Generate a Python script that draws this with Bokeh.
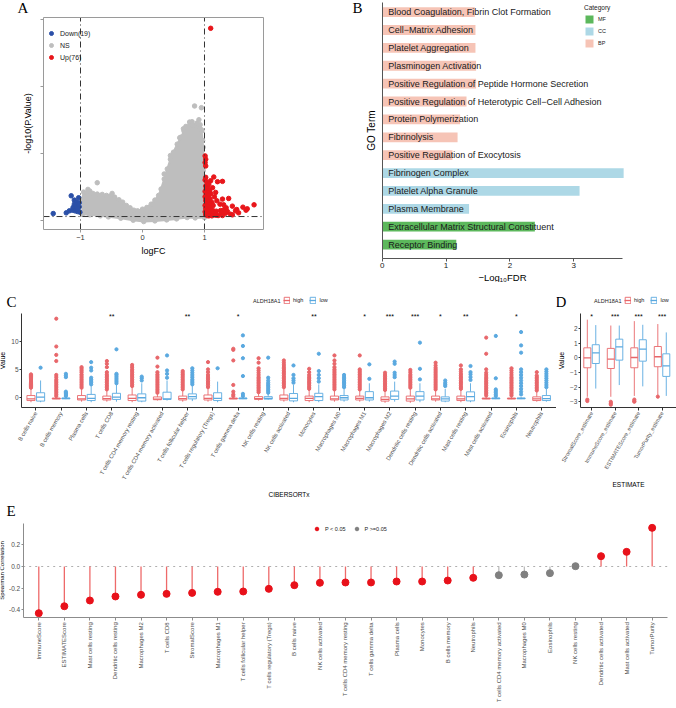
import math
from bokeh.plotting import figure
from bokeh.models import Range1d, Label, Legend, LegendItem, FixedTicker, NumeralTickFormatter
from bokeh.layouts import column, row
from bokeh.embed import file_html
from bokeh.resources import INLINE
from bokeh.core.properties import value

FONT = "Liberation Sans"
SERIF = "Liberation Serif"

# ---------------- Panel A : volcano ----------------
fc_cut = [-1, 1]
p_cut = 1.3
cloud_x = [-0.97, -0.97, -0.95, -0.90, -0.85, -0.80, -0.73, -0.65, -0.58, -0.51,
           -0.45, -0.38, -0.32, -0.26, -0.20, -0.14, -0.08, 0.0, 0.07, 0.14,
           0.20, 0.26, 0.30, 0.35, 0.40, 0.45, 0.50, 0.56, 0.62, 0.67,
           0.72, 0.77, 0.82, 0.87, 0.92, 0.95, 0.97, 0.985, 0.99, 0.995,
           1.0, 0.85, 0.72, 0.55, 0.39, 0.20, 0.02, -0.15, -0.35, -0.55,
           -0.68, -0.85]
cloud_y = [2.0, 6.5, 8.6, 8.3, 8.9, 8.2, 8.0, 7.9, 7.6, 7.5,
           7.1, 6.3, 5.6, 4.6, 3.9, 3.2, 3.0, 3.5, 4.0, 5.0,
           6.2, 7.6, 9.5, 12.5, 15.5, 18.4, 20.5, 22.9, 25.0, 26.8,
           28.0, 28.9, 28.5, 28.4, 27.8, 27.2, 24.0, 18.0, 10.0, 4.0,
           1.0, 0.9, 1.0, 0.6, 0.3, 0.0, -0.2, 0.2, 0.8, 1.2,
           1.5, 1.8]
ns_px = [-0.88, -0.73, -0.49, 0.84, 0.95, 0.80, 0.96, 0.70, 0.88, 0.60, 0.45, 0.35, 0.93, 0.76, 0.91, 0.66, 0.98, 0.98]
ns_py = [9.4, 11.4, 8.2, 34.3, 33.8, 29.6, 26.9, 28.2, 29.2, 24.8, 19.5, 14.0, 28.7, 29.5, 30.2, 27.5, 22.0, 15.0]
down_x = [-1.44, -1.23, -1.18, -1.15, -1.13, -1.12, -1.10, -1.09, -1.08, -1.07, -1.06, -1.05, -1.04, -1.03, -1.02, -1.02, -1.01, -1.10, -1.05]
down_y = [2.2, 2.4, 3.0, 7.5, 3.2, 4.0, 6.2, 3.0, 4.9, 3.5, 5.5, 2.8, 3.2, 6.9, 4.2, 5.4, 2.6, 5.0, 3.8]
up_x = [1.01, 1.02, 1.01, 1.02,
        1.02, 1.05, 1.03, 1.08, 1.01, 1.06, 1.10, 1.03, 1.07, 1.01, 1.04, 1.09, 1.02, 1.06, 1.12, 1.03, 1.08, 1.01, 1.05, 1.10,
        1.02, 1.07, 1.13, 1.04, 1.01, 1.09, 1.05, 1.15, 1.02, 1.08, 1.12, 1.18, 1.22, 1.03, 1.06,
        1.15, 1.21, 1.29, 1.10, 1.13, 1.18, 1.29, 1.39, 1.31, 1.45, 1.62, 1.69, 1.80, 1.52, 1.32, 1.26, 1.35, 1.37, 1.27, 1.42,
        1.50, 1.55, 1.67, 1.25, 1.20, 1.16, 1.14, 1.34, 1.29, 1.45,
        1.10,
        1.04, 1.01, 1.02, 1.07, 1.11, 1.19]
up_y = [19.4, 18.4, 17.4, 16.4,
        10.4, 10.0, 9.6, 9.2, 8.8, 8.5, 8.2, 7.9, 7.5, 7.2, 6.8, 6.5, 6.1, 5.8, 5.5, 5.2, 4.9, 4.6, 4.3, 4.0,
        3.7, 3.4, 3.2, 3.0, 2.7, 2.5, 2.2, 2.0, 1.8, 1.6, 1.5, 1.7, 1.6, 2.0, 1.5,
        13.1, 11.7, 11.8, 12.0, 9.9, 8.5, 6.5, 6.7, 4.8, 4.4, 4.1, 3.6, 4.8, 3.4, 3.4, 3.1, 3.9, 2.8, 2.4, 2.0,
        3.0, 2.4, 3.2, 5.0, 6.0, 7.2, 4.6, 2.3, 1.6, 1.8,
        57.5,
        11.5, 12.2, 13.0, 11.0, 2.8, 2.9]
a_legend = ["Down(19)", "NS", "Up(76)"]

# ---------------- Panel B : GO terms ----------------
go_terms = ["Blood Coagulation, Fibrin Clot Formation", "Cell\u2212Matrix Adhesion", "Platelet Aggregation",
            "Plasminogen Activation", "Positive Regulation of Peptide Hormone Secretion",
            "Positive Regulation of Heterotypic Cell\u2212Cell Adhesion", "Protein Polymerization", "Fibrinolysis",
            "Positive Regulation of Exocytosis", "Fibrinogen Complex", "Platelet Alpha Granule", "Plasma Membrane",
            "Extracellular Matrix Structural Constituent", "Receptor Binding"]
go_fdr = [1.45, 1.46, 1.46, 1.47, 1.47, 1.32, 1.22, 1.18, 1.10, 3.78, 3.09, 1.36, 2.39, 1.16]
go_cat = ["BP"] * 9 + ["CC"] * 3 + ["MF"] * 2
cat_order = ["MF", "CC", "BP"]
cat_cols = {"MF": "#5CB85C", "CC": "#ADD8E6", "BP": "#F6C4B6"}

# ---------------- Panel C : CIBERSORTx boxplots ----------------
c_cells = ["B cells naive", "B cells memory", "Plasma cells", "T cells CD8", "T cells CD4 memory resting",
           "T cells CD4 memory activated", "T cells follicular helper", "T cells regulatory (Tregs)",
           "T cells gamma delta", "NK cells resting", "NK cells activated", "Monocytes", "Macrophages M0",
           "Macrophages M1", "Macrophages M2", "Dendritic cells resting", "Dendritic cells activated",
           "Mast cells resting", "Mast cells activated", "Eosinophils", "Neutrophils"]
c_sig = ["", "", "", "**", "", "", "**", "", "*", "", "", "**", "", "*", "***", "***", "*", "**", "", "*", ""]
c_hi_q1 = [-0.6, -0.3, -0.5, -0.5, -0.6, -0.45, -0.5, -0.5, -0.3, -0.4, -0.5, -0.6, -0.5, -0.5, -0.7, -0.7, -0.5, -0.6, -0.3, -0.3, -0.6]
c_hi_med = [-0.3, -0.25, -0.3, -0.25, -0.2, -0.35, -0.25, -0.2, -0.25, -0.25, -0.2, -0.2, -0.3, -0.2, -0.4, -0.3, -0.3, -0.3, -0.25, -0.25, -0.3]
c_hi_q3 = [0.3, -0.15, 0.3, 0.2, 0.4, 0.05, 0.2, 0.4, -0.15, 0.1, 0.4, 0.2, 0.2, 0.2, 0.06, 0.2, 0.2, 0.2, -0.15, -0.15, 0.06]
c_hi_lo = [-0.9, -0.35, -0.8, -0.8, -0.9, -0.6, -0.8, -0.8, -0.35, -0.6, -0.8, -0.9, -0.8, -0.8, -1.0, -1.0, -0.8, -0.9, -0.35, -0.35, -0.8]
c_hi_hi = [1.5, 0.0, 1.5, 1.2, 1.8, 0.6, 1.2, 1.6, 0.0, 0.7, 1.6, 1.3, 1.2, 1.2, 1.1, 1.5, 1.2, 1.3, 0.0, 0.0, 1.0]
c_hi_out = [
    [1.7, 1.9, 2.1, 2.3, 2.5, 2.7, 2.9, 3.1, 3.3, 3.5, 3.7, 3.9, 4.1],
    [0.2, 0.5, 0.8, 1.1, 1.4, 1.7, 2.0, 2.3, 2.6, 2.9, 3.2, 3.6, 4.0, 6.5, 7.6, 9.1, 14.1],
    [1.7, 2.0, 2.3, 2.6, 2.9, 3.2, 3.5, 3.8, 4.1, 4.5, 4.8, 5.1, 5.4],
    [1.4, 1.7, 2.0, 2.3, 2.6, 2.9, 3.2, 3.5, 3.8, 4.1, 4.5, 5.4, 6.0, 6.5],
    [2.0, 2.3, 2.6, 2.9, 3.2, 3.5, 3.8, 4.1, 4.4, 4.7, 5.0, 5.4, 5.8],
    [0.8, 1.1, 1.4, 1.7, 2.0, 2.3, 2.6, 2.9, 3.2, 3.5, 3.8, 4.1, 4.5, 5.5, 7.1],
    [1.4, 1.7, 2.0, 2.3, 2.6, 2.9, 3.2, 3.5, 3.8, 4.1, 4.4, 4.7],
    [1.8, 2.1, 2.4, 2.7, 3.0, 3.3, 3.6, 4.0, 4.5, 5.0, 6.3],
    [0.2, 0.5, 1.0, 2.2, 6.6, 8.5, 8.7],
    [0.9, 1.2, 1.5, 1.8, 2.1, 2.4, 2.7, 3.0, 3.3, 3.6, 4.0, 4.4, 4.8, 5.2, 6.2, 7.0],
    [1.8, 2.1, 2.4, 2.7, 3.0, 3.3, 3.6, 3.9, 4.2, 4.5, 4.8, 5.1, 5.4, 5.8, 6.2, 6.6],
    [1.5, 1.8, 2.1, 2.4, 2.7, 3.0, 3.3, 3.6, 4.0, 4.5, 5.1],
    [1.4, 1.7, 2.0, 2.3, 2.6, 2.9, 3.2, 3.5, 3.8, 4.1, 4.4, 4.7, 5.0, 5.4, 6.0, 6.6, 7.5],
    [1.4, 1.7, 2.0, 2.3, 2.6, 2.9, 3.2, 3.5, 3.8, 4.1, 4.4, 4.7, 5.0, 7.5],
    [1.3, 1.6, 1.9, 2.2, 2.5, 2.8, 3.1, 3.4, 3.7, 4.0, 4.4],
    [1.7, 2.0, 2.3, 2.6, 2.9, 3.2, 3.5, 3.8, 4.1, 4.5, 4.9],
    [1.4, 1.7, 2.0, 2.3, 2.6, 2.9, 3.2, 3.5, 3.8, 4.1, 4.4, 4.7, 5.0, 5.3, 5.7, 6.2],
    [1.5, 1.8, 2.1, 2.4, 2.7, 3.0, 3.3, 3.6, 3.9, 4.2, 4.6, 5.0, 5.7],
    [0.3, 0.6, 0.9, 1.2, 1.5, 1.8, 2.1, 2.4, 2.7, 3.0, 3.3, 3.6, 4.0, 4.4, 5.0, 7.8, 10.7],
    [0.3, 0.6, 0.9, 1.2, 1.5, 1.8, 2.1, 2.4, 2.7, 3.0, 3.3, 3.6, 4.0, 4.4, 4.8, 5.2],
    [1.2, 1.5, 1.8, 2.1, 2.4, 2.7, 3.0, 3.3, 3.6, 3.9, 4.5],
]
c_lo_q1 = [-0.7, -0.3, -0.6, -0.4, -0.7, -0.4, -0.3, -0.6, -0.3, -0.35, -0.66, -0.6, -0.5, -0.5, -0.4, -0.5, -0.7, -0.66, -0.3, -0.3, -0.6]
c_lo_med = [0.0, -0.22, -0.2, 0.0, -0.1, -0.3, 0.1, -0.2, -0.22, -0.2, -0.2, 0.1, -0.1, -0.1, 0.2, 0.2, -0.3, 0.1, -0.22, -0.22, -0.25]
c_lo_q3 = [0.8, -0.15, 0.5, 0.7, 0.6, 0.9, 0.6, 0.8, -0.15, 0.1, 0.66, 0.7, 0.3, 1.0, 1.1, 1.0, 0.06, 0.96, -0.15, -0.15, 0.3]
c_lo_lo = [-0.9, -0.35, -0.9, -0.8, -0.9, -0.6, -0.7, -0.9, -0.35, -0.5, -0.9, -0.9, -0.8, -0.8, -0.8, -0.9, -0.9, -0.9, -0.35, -0.35, -0.8]
c_lo_hi = [3.0, 0.0, 2.0, 2.2, 2.5, 3.0, 2.0, 2.8, 0.0, 0.6, 2.2, 2.3, 1.5, 2.5, 2.8, 2.5, 1.5, 2.5, 0.0, 0.0, 1.5]
c_lo_out = [
    [5.3],
    [0.2, 0.4, 0.6, 0.8, 1.0, 3.6, 3.9, 4.2],
    [2.3, 2.6, 2.9, 3.2, 3.5, 4.8, 5.3, 6.3],
    [2.5, 2.8, 3.1, 3.4, 3.7, 4.0, 4.2, 8.6],
    [3.0, 3.4, 3.7],
    [3.5, 4.2, 4.8, 7.5],
    [2.3, 2.6, 2.9, 3.2, 3.6, 4.0, 4.4, 4.8, 5.2],
    [5.2],
    [0.2, 0.6, 3.8, 7.0, 9.2, 11.1],
    [0.8, 1.1, 1.4, 1.7, 2.0, 2.3, 2.6, 3.0, 3.5, 7.1],
    [2.6, 3.0, 3.4, 4.0, 5.7],
    [2.8, 3.4, 4.0, 4.7, 7.8],
    [1.8, 2.1, 2.4, 2.7, 3.0, 3.3, 3.6, 4.0],
    [3.3, 5.9],
    [3.6, 4.0, 4.4, 6.0, 6.4],
    [3.2, 5.1, 9.8],
    [2.0, 2.3, 2.6, 3.0],
    [3.1, 3.6, 4.1, 4.5, 5.6],
    [0.2, 0.5, 0.8, 1.1, 1.4, 3.4, 11.0],
    [0.5, 1.0, 1.5, 2.0, 2.5, 3.0, 3.5, 4.0, 4.5, 5.0, 8.0, 9.3, 11.7],
    [1.8, 2.2, 2.6, 3.0, 3.4, 3.8, 4.2, 4.6, 5.0],
]

# ---------------- Panel D : ESTIMATE boxplots ----------------
d_names = ["StromalScore_estimate", "ImmuneScore_estimate", "ESTIMATEScore_estimate", "TumorPurity_estimate"]
d_sig = ["*", "***", "***", "***"]
d_hi_q1 = [-0.68, -0.73, -0.68, -0.61]
d_hi_med = [0.0, -0.09, 0.02, 0.07]
d_hi_q3 = [0.68, 0.64, 0.68, 0.77]
d_hi_lo = [-2.66, -2.66, -2.6, -2.55]
d_hi_hi = [2.6, 2.2, 2.5, 2.3]
d_hi_out = [[-2.85, -2.95], [-3.0, -3.1, -3.2], [-2.85, -2.95, -3.0], [-2.65]]
d_lo_q1 = [-0.39, -0.16, -0.23, -1.27]
d_lo_med = [0.34, 0.75, 0.59, -0.55]
d_lo_q3 = [0.89, 1.27, 1.23, 0.27]
d_lo_lo = [-2.1, -1.86, -1.95, -2.6]
d_lo_hi = [2.23, 2.2, 2.25, 1.73]
d_lo_out = [[], [], [], []]
group_title = "ALDH18A1"
group_names = ["high", "low"]

# ---------------- Panel E : Spearman lollipop ----------------
e_names = ["ImmuneScore", "ESTIMATEScore", "Mast cells resting", "Dendritic cells resting", "Macrophages M2",
           "T cells CD8", "StromalScore", "Macrophages M1", "T cells follicular helper", "T cells regulatory (Tregs)",
           "B cells naive", "NK cells activated", "T cells CD4 memory resting", "T cells gamma delta", "Plasma cells",
           "Monocytes", "B cells memory", "Neutrophils", "T cells CD4 memory activated", "Macrophages M0",
           "Eosinophils", "NK cells resting", "Dendritic cells activated", "Mast cells activated", "TumorPurity"]
e_rho = [-0.43, -0.366, -0.313, -0.276, -0.261, -0.252, -0.243, -0.233, -0.23, -0.206, -0.172, -0.15, -0.147,
         -0.147, -0.138, -0.138, -0.129, -0.104, -0.08, -0.074, -0.061, 0.003, 0.095, 0.135, 0.356]
e_sig = [True] * 18 + [False] * 4 + [True] * 3
e_legend = ["P < 0.05", "P >=0.05"]

HIGH = "#E8666A"
LOW = "#5AA9E0"


class Spec:
    """Canvas box (x0,y0,w,h) and plotting area (fl,ft)-(fr,fb) in page pixels, with its data ranges."""
    def __init__(self, x0, y0, w, h, fl, ft, fr, fb, xr, yr):
        self.x0, self.y0, self.w, self.h = x0, y0, w, h
        self.fl, self.ft, self.fr, self.fb = fl, ft, fr, fb
        self.xr, self.yr = xr, yr
        self.ux = (xr[1] - xr[0]) / (fr - fl)
        self.uy = (yr[1] - yr[0]) / (fb - ft)
        self.X = (xr[0] - (fl - x0) * self.ux, xr[1] + (x0 + w - fr) * self.ux)
        self.Y = (yr[0] - (y0 + h - fb) * self.uy, yr[1] + (ft - y0) * self.uy)

    def data(self, px, py):
        return self.xr[0] + (px - self.fl) * self.ux, self.yr[1] - (py - self.ft) * self.uy

    def loc(self, px_left, py_bottom):
        return (int(round(px_left - self.x0)), int(round(self.y0 + self.h - py_bottom)))


def base_fig(s):
    p = figure(width=s.w, height=s.h, x_range=Range1d(s.X[0], s.X[1]), y_range=Range1d(s.Y[0], s.Y[1]),
               output_backend="svg", toolbar_location=None, title=None,
               min_border_left=0, min_border_right=0, min_border_top=0, min_border_bottom=0)
    try:
        p.frame_align = False
    except Exception:
        pass
    p.xgrid.visible = False
    p.ygrid.visible = False
    p.outline_line_color = None
    p.border_fill_color = "white"
    p.background_fill_color = "white"
    p.xaxis.fixed_location = s.yr[0]
    p.yaxis.fixed_location = s.xr[0]
    p.xaxis.bounds = s.xr
    p.yaxis.bounds = s.yr
    return p


def style_axis(ax, tick_fs, label_fs, line="#333333", tickcol="#4d4d4d"):
    ax.axis_label_text_font = FONT
    ax.axis_label_text_font_style = "normal"
    ax.axis_label_text_font_size = label_fs
    ax.axis_label_text_color = "black"
    ax.major_label_text_font = FONT
    ax.major_label_text_font_size = tick_fs
    ax.major_label_text_color = tickcol
    ax.axis_line_color = line
    ax.axis_line_width = 1
    ax.major_tick_line_color = line
    ax.minor_tick_line_color = None
    ax.major_tick_out = 3
    ax.major_tick_in = 0
    ax.major_label_standoff = 2
    ax.axis_label_standoff = 3


def style_legend(leg, fs, gw, gh, spacing=2, padding=0):
    leg.label_text_font = FONT
    leg.label_text_font_size = fs
    leg.label_text_color = "#222222"
    leg.glyph_width = int(gw)
    leg.glyph_height = int(gh)
    leg.label_height = int(gh)
    leg.label_width = 0
    leg.spacing = int(spacing)
    leg.padding = int(padding)
    leg.margin = 0
    leg.label_standoff = 4
    leg.background_fill_alpha = 0
    leg.border_line_color = None


def page_label(p, s, text, px, py, size, font=FONT, align="left", baseline="top", color="black"):
    x, y = s.data(px, py)
    p.add_layout(Label(x=x, y=y, text=text, text_font=font, text_font_size=size,
                       text_baseline=baseline, text_align=align, text_color=color))


# ======== A ========
NS_COL = "#BEBEBE"
sA = Spec(0, 0, 330, 282, 43, 17, 263, 229, (-1.597, 1.952), (-2.57, 60.72))
pa = base_fig(sA)
pa.patch(cloud_x, cloud_y, fill_color=NS_COL, line_color=NS_COL, line_width=2)
r_ns = pa.scatter(cloud_x + ns_px, cloud_y + ns_py, size=4.5, color=NS_COL)
r_dn = pa.scatter(down_x, down_y, size=4.5, color="#2B50A8")
r_up = pa.scatter(up_x, up_y, size=4.5, color="#E8161B")
pa.segment(x0=fc_cut, y0=[sA.yr[0]] * 2, x1=fc_cut, y1=[sA.yr[1]] * 2,
           line_color="#333333", line_width=1, line_dash="6 3 1 3")
pa.segment(x0=[sA.xr[0]], y0=[p_cut], x1=[sA.xr[1]], y1=[p_cut],
           line_color="#333333", line_width=1, line_dash="6 3 1 3")
pa.quad(left=[sA.xr[0]], right=[sA.xr[1]], bottom=[sA.yr[0]], top=[sA.yr[1]],
        fill_color=None, line_color="#9a9a9a", line_width=1)
pa.xaxis.ticker = FixedTicker(ticks=[-1, 0, 1])
pa.yaxis.ticker = FixedTicker(ticks=[0, 20, 40, 60])
for ax in (pa.xaxis[0], pa.yaxis[0]):
    style_axis(ax, "7.5px", "9px", line="#9a9a9a", tickcol="#333333")
    ax.axis_line_color = None
pa.yaxis.major_label_overrides = {0: " ", 20: " ", 40: " ", 60: " "}
pa.yaxis.major_label_standoff = 0
pa.yaxis.axis_label_standoff = 2
pa.xaxis.axis_label = "logFC"
pa.yaxis.axis_label = "-log10(P.Value)"
lega = Legend(items=[LegendItem(label=a_legend[0], renderers=[r_dn]),
                     LegendItem(label=a_legend[1], renderers=[r_ns]),
                     LegendItem(label=a_legend[2], renderers=[r_up])], location=sA.loc(46, 62))
style_legend(lega, "7px", 10, 10, spacing=2)
pa.add_layout(lega, "center")
page_label(pa, sA, "A", 17, -1, "15px", font=SERIF)

# ======== B ========
sB = Spec(330, 0, 346, 282, 381.7, 2, 622, 258, (0, 3.762), (-0.78, 13.54))
pb = base_fig(sB)
go_y = [len(go_terms) - 1 - i for i in range(len(go_terms))]
b_rend = {}
for c in cat_order:
    ys = [go_y[i] for i in range(len(go_terms)) if go_cat[i] == c]
    rs = [go_fdr[i] for i in range(len(go_terms)) if go_cat[i] == c]
    b_rend[c] = pb.hbar(y=ys, right=rs, left=0, height=0.55, fill_color=cat_cols[c], line_color=None)
pb.text(x=[0] * len(go_terms), y=go_y, text=go_terms, x_offset=6, text_font=value(FONT),
        text_font_size="9px", text_baseline="middle", text_color="#1a1a1a")
pb.xaxis.ticker = FixedTicker(ticks=[0, 1, 2, 3])
pb.yaxis.ticker = FixedTicker(ticks=[])
style_axis(pb.xaxis[0], "8px", "9.5px", line="#555555", tickcol="#1a1a1a")
style_axis(pb.yaxis[0], "8px", "10px", line="#555555", tickcol="#1a1a1a")
pb.xaxis.major_label_standoff = 1
pb.xaxis.axis_label_standoff = 1
pb.yaxis.major_tick_out = 0
pb.yaxis.major_label_standoff = 0
pb.yaxis.axis_label_standoff = 6
pb.xaxis.axis_label = "\u2212Log\u2081\u2080FDR"
pb.yaxis.axis_label = "GO Term"
legb = Legend(items=[LegendItem(label=c, renderers=[b_rend[c]]) for c in cat_order], location=sB.loc(584, 48))
style_legend(legb, "5.5px", 10, 10, spacing=2, padding=0)
legb.title = "Category"
legb.title_text_font = FONT
legb.title_text_font_size = "6.5px"
legb.title_text_font_style = "normal"
legb.title_text_color = "#222222"
legb.title_standoff = 3
pb.add_layout(legb, "center")
page_label(pb, sB, "B", 352, -1, "15px", font=SERIF)


def draw_boxes(p, xs, q1, med, q3, lo, hi, outs, color, hw):
    left = [x - hw for x in xs]
    right = [x + hw for x in xs]
    p.segment(x0=xs, y0=q3, x1=xs, y1=hi, line_color=color, line_width=0.9)
    p.segment(x0=xs, y0=lo, x1=xs, y1=q1, line_color=color, line_width=0.9)
    ox = [xs[i] for i in range(len(xs)) for _ in outs[i]]
    oy = [v for i in range(len(xs)) for v in outs[i]]
    p.scatter(ox, oy, size=3.2, color=color)
    rb = p.quad(left=left, right=right, bottom=q1, top=q3, fill_color="white", line_color=color, line_width=0.9)
    rm = p.segment(x0=left, y0=med, x1=right, y1=med, line_color=color, line_width=1.3)
    return rb, rm


def box_legend(p, s, rh, rl, key_px, title_px, py):
    leg = Legend(items=[LegendItem(label=group_names[0], renderers=list(rh)),
                        LegendItem(label=group_names[1], renderers=list(rl))],
                 orientation="horizontal", location=s.loc(key_px, py + 4))
    style_legend(leg, "5.5px", 7, 8, spacing=6)
    leg.label_standoff = 3
    p.add_layout(leg, "center")
    page_label(p, s, group_title, title_px, py, "5.5px", align="right", baseline="middle", color="#222222")


# ======== C ========
sC = Spec(0, 282, 556, 215, 21, 313, 556, 406.7, (-0.565, 20.59), (-1.795, 15.03))
pc = base_fig(sC)
cx = list(range(len(c_cells)))
rh = draw_boxes(pc, [i - 0.19 for i in cx], c_hi_q1, c_hi_med, c_hi_q3, c_hi_lo, c_hi_hi, c_hi_out, HIGH, 0.16)
rl = draw_boxes(pc, [i + 0.19 for i in cx], c_lo_q1, c_lo_med, c_lo_q3, c_lo_lo, c_lo_hi, c_lo_out, LOW, 0.16)
pc.text(x=cx, y=[14.5] * len(cx), text=c_sig, text_font=value(FONT), text_font_size="7px",
        text_align="center", text_baseline="middle", text_color="black")
pc.xaxis.ticker = FixedTicker(ticks=cx)
pc.xaxis.major_label_overrides = {i: c_cells[i] for i in cx}
pc.yaxis.ticker = FixedTicker(ticks=[0, 5, 10])
style_axis(pc.xaxis[0], "5.8px", "6.5px")
style_axis(pc.yaxis[0], "6.5px", "7px")
pc.yaxis.major_tick_out = 2
pc.yaxis.major_label_standoff = 1
pc.yaxis.axis_label_standoff = 2
pc.xaxis.major_label_orientation = math.pi / 3
pc.xaxis.axis_label = "CIBERSORTx"
pc.yaxis.axis_label = "Value"
pc.xaxis.axis_label_standoff = 6
box_legend(pc, sC, rh, rl, 283, 280, 300)
page_label(pc, sC, "C", 6, 293, "15px", font=SERIF)

# ======== D ========
sD = Spec(556, 282, 120, 215, 580, 313, 678, 406.7, (-0.47, 3.70), (-3.37, 3.02))
pd_ = base_fig(sD)
dx = list(range(len(d_names)))
rh2 = draw_boxes(pd_, [i - 0.18 for i in dx], d_hi_q1, d_hi_med, d_hi_q3, d_hi_lo, d_hi_hi, d_hi_out, HIGH, 0.15)
rl2 = draw_boxes(pd_, [i + 0.18 for i in dx], d_lo_q1, d_lo_med, d_lo_q3, d_lo_lo, d_lo_hi, d_lo_out, LOW, 0.15)
pd_.text(x=dx, y=[2.84] * len(dx), text=d_sig, text_font=value(FONT), text_font_size="7px",
         text_align="center", text_baseline="middle", text_color="black")
pd_.xaxis.ticker = FixedTicker(ticks=dx)
pd_.xaxis.major_label_overrides = {i: d_names[i] for i in dx}
pd_.yaxis.ticker = FixedTicker(ticks=[-3, -2, -1, 0, 1, 2])
style_axis(pd_.xaxis[0], "5.5px", "6.5px")
style_axis(pd_.yaxis[0], "6.5px", "7px")
pd_.yaxis.major_tick_out = 2
pd_.yaxis.major_label_standoff = 1
pd_.yaxis.axis_label_standoff = 2
pd_.xaxis.major_label_orientation = math.pi / 3
pd_.xaxis.axis_label = "ESTIMATE"
pd_.yaxis.axis_label = "Value"
pd_.xaxis.axis_label_standoff = 6
box_legend(pd_, sD, rh2, rl2, 624, 621, 300)
page_label(pd_, sD, "D", 555, 293, "15px", font=SERIF)

# ======== E ========
sE = Spec(0, 497, 676, 209, 22.7, 523.3, 667, 616.7, (-0.61, 24.6), (-0.467, 0.3935))
pe = base_fig(sE)
ex = list(range(len(e_names)))
stem_cols = ["#EE6A6A" if s else "#BDBDBD" for s in e_sig]
pe.segment(x0=[sE.xr[0]], y0=[0], x1=[sE.xr[1]], y1=[0], line_color="#9a9a9a", line_width=0.8, line_dash="dotted")
pe.segment(x0=ex, y0=[0] * len(ex), x1=ex, y1=e_rho, line_color=stem_cols, line_width=1.3)
r_sig = pe.scatter([ex[i] for i in ex if e_sig[i]], [e_rho[i] for i in ex if e_sig[i]], size=7, color="#E8111A")
r_nsig = pe.scatter([ex[i] for i in ex if not e_sig[i]], [e_rho[i] for i in ex if not e_sig[i]], size=7, color="#808080")
pe.xaxis.ticker = FixedTicker(ticks=ex)
pe.xaxis.major_label_overrides = {i: e_names[i] for i in ex}
pe.yaxis.ticker = FixedTicker(ticks=[-0.4, -0.2, 0.0, 0.2])
pe.yaxis.formatter = NumeralTickFormatter(format="0.0")
style_axis(pe.xaxis[0], "6px", "6px", line="#8c8c8c")
style_axis(pe.yaxis[0], "6.5px", "6px", line="#8c8c8c")
pe.yaxis.major_tick_out = 2
pe.yaxis.major_label_standoff = 1
pe.yaxis.axis_label_standoff = 1
pe.xaxis.major_label_orientation = math.pi / 2
pe.yaxis.axis_label = "Spearman Correlation"
lege = Legend(items=[LegendItem(label=e_legend[0], renderers=[r_sig]),
                     LegendItem(label=e_legend[1], renderers=[r_nsig])],
              orientation="horizontal", location=sE.loc(312, 533))
style_legend(lege, "5.5px", 9, 9, spacing=6)
pe.add_layout(lege, "center")
page_label(pe, sE, "E", 6, 502, "15px", font=SERIF)

layout = column(row(pa, pb), row(pc, pd_), pe)
open("out.html", "w").write(file_html(layout, INLINE))
